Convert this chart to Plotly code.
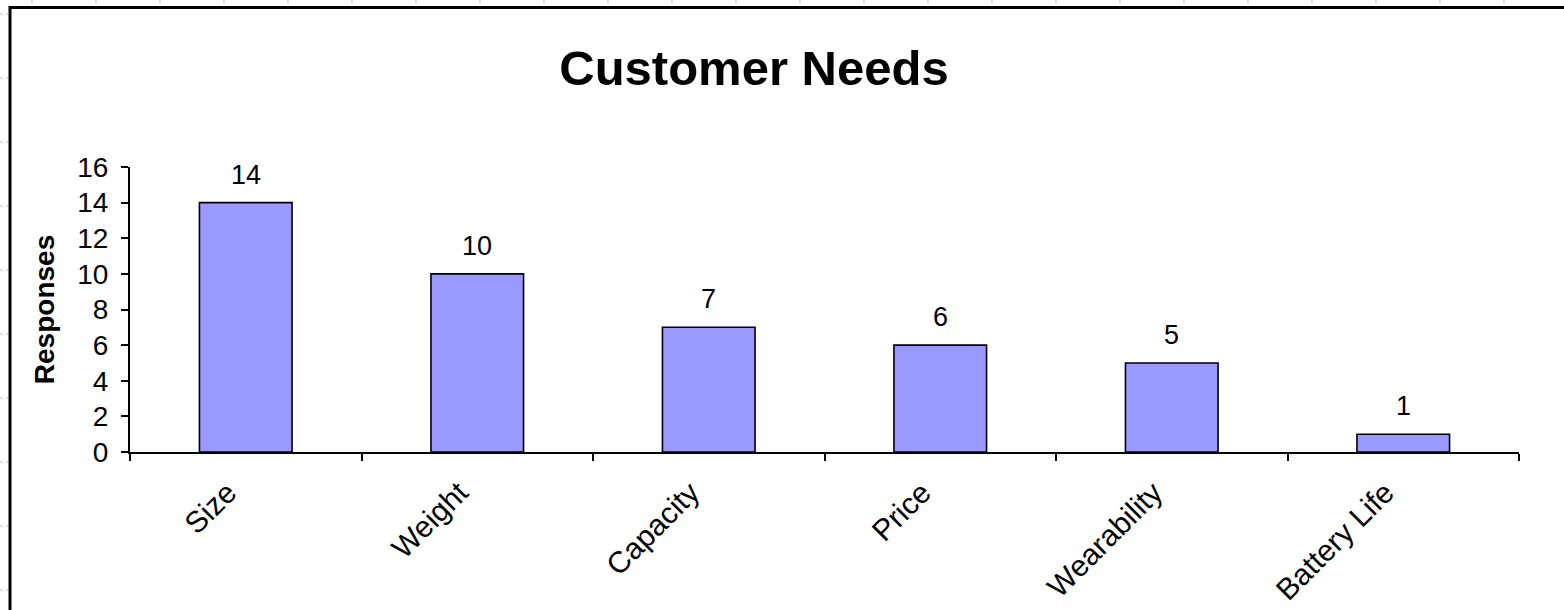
import plotly.graph_objects as go

# Survey results: what customers said they needed
categories = ["Size", "Weight", "Capacity", "Price", "Wearability", "Battery Life"]
responses = [14, 10, 7, 6, 5, 1]
y_ticks = [0, 2, 4, 6, 8, 10, 12, 14, 16]

W, H = 1564, 610
M_L, M_R, M_T, M_B = 130, 45, 167, 158
plot_w = W - M_L - M_R
plot_h = H - M_T - M_B

FONT = "Liberation Sans, Arial, sans-serif"

fig = go.Figure(
    go.Bar(
        x=categories,
        y=responses,
        width=0.4,
        marker=dict(color="#9999FF", line=dict(color="#000000", width=1.6)),
        hoverinfo="x+y",
    )
)

# value labels above each bar
for cat, val in zip(categories, responses):
    fig.add_annotation(
        x=cat, y=val, text=str(val), showarrow=False,
        yanchor="bottom", yshift=11,
        font=dict(family=FONT, size=27, color="#000000"),
    )


def px_to_paper_x(px):
    return (px - M_L) / plot_w


def px_to_paper_y(py):
    return (H - M_B - py) / plot_h


shapes = []
# chart frame (left and top edges; the rest runs off the page)
shapes.append(dict(type="line", xref="paper", yref="paper",
                   x0=px_to_paper_x(10), x1=px_to_paper_x(1580),
                   y0=px_to_paper_y(7.5), y1=px_to_paper_y(7.5),
                   line=dict(color="#000000", width=3)))
shapes.append(dict(type="line", xref="paper", yref="paper",
                   x0=px_to_paper_x(10), x1=px_to_paper_x(10),
                   y0=px_to_paper_y(6), y1=px_to_paper_y(620),
                   line=dict(color="#000000", width=3)))
# faint sheet cell borders peeking out around the frame
for cx in range(32, W, 64):
    shapes.append(dict(type="line", xref="paper", yref="paper",
                       x0=px_to_paper_x(cx), x1=px_to_paper_x(cx),
                       y0=px_to_paper_y(0), y1=px_to_paper_y(5),
                       line=dict(color="#c9d0f2", width=1.5, dash="dot")))
for ry in range(14, H, 64):
    shapes.append(dict(type="line", xref="paper", yref="paper",
                       x0=px_to_paper_x(0), x1=px_to_paper_x(8),
                       y0=px_to_paper_y(ry), y1=px_to_paper_y(ry),
                       line=dict(color="#c9d0f2", width=1.5, dash="dot")))

fig.update_layout(
    width=W, height=H,
    margin=dict(l=M_L, r=M_R, t=M_T, b=M_B, pad=0, autoexpand=False),
    paper_bgcolor="#ffffff",
    plot_bgcolor="#ffffff",
    showlegend=False,
    shapes=shapes,
    title=dict(
        text="<b>Customer Needs</b>",
        x=(754) / W, xanchor="center",
        y=1 - 68 / H, yanchor="middle",
        font=dict(family=FONT, size=49, color="#000000"),
    ),
    xaxis=dict(
        type="category",
        range=[-0.5, len(categories) - 0.5],
        automargin=False,
        showline=True, linecolor="#000000", linewidth=2,
        ticks="outside", tickson="boundaries", ticklen=7, tickwidth=2, tickcolor="#000000",
        tickangle=-45,
        tickfont=dict(family=FONT, size=30, color="#000000"),
        ticklabelstandoff=9,
        ticklabelshift=-18,
        showgrid=False, zeroline=False,
        fixedrange=True,
    ),
    yaxis=dict(
        range=[0, 16],
        tickvals=y_ticks,
        automargin=False,
        showline=True, linecolor="#000000", linewidth=2,
        ticks="outside", ticklen=7, tickwidth=2, tickcolor="#000000",
        tickfont=dict(family=FONT, size=28, color="#000000"),
        ticklabelstandoff=7,
        showgrid=False, zeroline=False,
        title=dict(text="<b>Responses</b>", standoff=14,
                   font=dict(family=FONT, size=28, color="#000000")),
        fixedrange=True,
    ),
)

fig.write_html("out.html", config={"displayModeBar": False})
